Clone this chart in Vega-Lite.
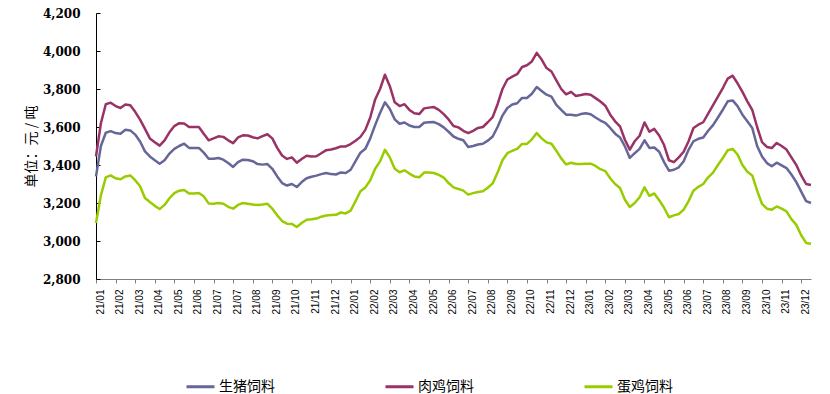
{
  "$schema": "https://vega.github.io/schema/vega-lite/v6.json",
  "width": 715,
  "height": 266,
  "autosize": {"type": "none"},
  "padding": {"left": 96, "top": 13, "right": 19, "bottom": 115},
  "background": "white",
  "config": {"view": {"stroke": null}, "font": "Liberation Sans"},
  "data": {"values": [
    {"w":0,"生猪饲料":3340,"肉鸡饲料":3445,"蛋鸡饲料":3095},
    {"w":1,"生猪饲料":3500,"肉鸡饲料":3620,"蛋鸡饲料":3240},
    {"w":2,"生猪饲料":3570,"肉鸡饲料":3720,"蛋鸡饲料":3335},
    {"w":3,"生猪饲料":3578,"肉鸡饲料":3728,"蛋鸡饲料":3345},
    {"w":4,"生猪饲料":3568,"肉鸡饲料":3710,"蛋鸡饲料":3330},
    {"w":5,"生猪饲料":3565,"肉鸡饲料":3700,"蛋鸡饲料":3325},
    {"w":6,"生猪饲料":3585,"肉鸡饲料":3718,"蛋鸡饲料":3340},
    {"w":7,"生猪饲料":3582,"肉鸡饲料":3715,"蛋鸡饲料":3345},
    {"w":8,"生猪饲料":3560,"肉鸡饲料":3680,"蛋鸡饲料":3320},
    {"w":9,"生猪饲料":3524,"肉鸡饲料":3639,"蛋鸡饲料":3288},
    {"w":10,"生猪饲料":3472,"肉鸡饲料":3590,"蛋鸡饲料":3226},
    {"w":11,"生猪饲料":3445,"肉鸡饲料":3540,"蛋鸡饲料":3205},
    {"w":12,"生猪饲料":3425,"肉鸡饲料":3520,"蛋鸡饲料":3185},
    {"w":13,"生猪饲料":3407,"肉鸡饲料":3502,"蛋鸡饲料":3168},
    {"w":14,"生猪饲料":3425,"肉鸡饲料":3530,"蛋鸡饲料":3190},
    {"w":15,"生猪饲料":3460,"肉鸡饲料":3572,"蛋鸡饲料":3225},
    {"w":16,"生猪饲料":3485,"肉鸡饲料":3605,"蛋鸡饲料":3252},
    {"w":17,"生猪饲料":3500,"肉鸡饲料":3620,"蛋鸡饲料":3265},
    {"w":18,"生猪饲料":3512,"肉鸡饲料":3618,"蛋鸡饲料":3268},
    {"w":19,"生猪饲料":3490,"肉鸡饲料":3600,"蛋鸡饲料":3250},
    {"w":20,"生猪饲料":3490,"肉鸡饲料":3600,"蛋鸡饲料":3250},
    {"w":21,"生猪饲料":3490,"肉鸡饲料":3600,"蛋鸡饲料":3253},
    {"w":22,"生猪饲料":3465,"肉鸡饲料":3565,"蛋鸡饲料":3235},
    {"w":23,"生猪饲料":3433,"肉鸡饲料":3530,"蛋鸡饲料":3198},
    {"w":24,"生猪饲料":3433,"肉鸡饲料":3540,"蛋鸡饲料":3196},
    {"w":25,"生猪饲料":3437,"肉鸡饲料":3551,"蛋鸡饲料":3200},
    {"w":26,"生猪饲料":3428,"肉鸡饲料":3548,"蛋鸡饲料":3196},
    {"w":27,"生猪饲料":3410,"肉鸡饲料":3530,"蛋鸡饲料":3180},
    {"w":28,"生猪饲料":3390,"肉鸡饲料":3515,"蛋鸡饲料":3170},
    {"w":29,"生猪饲料":3415,"肉鸡饲料":3545,"蛋鸡饲料":3190},
    {"w":30,"生猪饲料":3428,"肉鸡饲料":3556,"蛋鸡饲料":3200},
    {"w":31,"生猪饲料":3426,"肉鸡饲料":3555,"蛋鸡饲料":3196},
    {"w":32,"生猪饲料":3420,"肉鸡饲料":3546,"蛋鸡饲料":3192},
    {"w":33,"生猪饲料":3405,"肉鸡饲料":3540,"蛋鸡饲料":3189},
    {"w":34,"生猪饲料":3402,"肉鸡饲料":3552,"蛋鸡饲料":3192},
    {"w":35,"生猪饲料":3405,"肉鸡饲料":3562,"蛋鸡饲料":3196},
    {"w":36,"生猪饲料":3380,"肉鸡饲料":3540,"蛋鸡饲料":3170},
    {"w":37,"生猪饲料":3340,"肉鸡饲料":3490,"蛋鸡饲料":3135},
    {"w":38,"生猪饲料":3305,"肉鸡饲料":3450,"蛋鸡饲料":3105},
    {"w":39,"生猪饲料":3292,"肉鸡饲料":3432,"蛋鸡饲料":3091},
    {"w":40,"生猪饲料":3300,"肉鸡饲料":3440,"蛋鸡饲料":3090},
    {"w":41,"生猪饲料":3284,"肉鸡饲料":3412,"蛋鸡饲料":3074},
    {"w":42,"生猪饲料":3310,"肉鸡饲料":3432,"蛋鸡饲料":3095},
    {"w":43,"生猪饲料":3330,"肉鸡饲料":3449,"蛋鸡饲料":3112},
    {"w":44,"生猪饲料":3338,"肉鸡饲料":3445,"蛋鸡饲料":3114},
    {"w":45,"生猪饲料":3344,"肉鸡饲料":3446,"蛋鸡饲料":3118},
    {"w":46,"生猪饲料":3352,"肉鸡饲料":3462,"蛋鸡饲料":3128},
    {"w":47,"生猪饲料":3358,"肉鸡饲料":3478,"蛋鸡饲料":3134},
    {"w":48,"生猪饲料":3352,"肉鸡饲料":3482,"蛋鸡饲料":3137},
    {"w":49,"生猪饲料":3350,"肉鸡饲料":3488,"蛋鸡饲料":3138},
    {"w":50,"生猪饲料":3361,"肉鸡饲料":3498,"蛋鸡饲料":3150},
    {"w":51,"生猪饲料":3358,"肉鸡饲料":3498,"蛋鸡饲料":3145},
    {"w":52,"生猪饲料":3375,"肉鸡饲料":3510,"蛋鸡饲料":3160},
    {"w":53,"生猪饲料":3420,"肉鸡饲料":3528,"蛋鸡饲料":3210},
    {"w":54,"生猪饲料":3465,"肉鸡饲料":3548,"蛋鸡饲料":3262},
    {"w":55,"生猪饲料":3485,"肉鸡饲料":3585,"蛋鸡饲料":3282},
    {"w":56,"生猪饲料":3540,"肉鸡饲料":3650,"蛋鸡饲料":3320},
    {"w":57,"生猪饲料":3610,"肉鸡饲料":3745,"蛋鸡饲料":3380},
    {"w":58,"生猪饲料":3674,"肉鸡饲料":3800,"蛋鸡饲料":3419},
    {"w":59,"生猪饲料":3730,"肉鸡饲料":3875,"蛋鸡饲料":3480},
    {"w":60,"生猪饲料":3695,"肉鸡饲料":3815,"蛋鸡饲料":3440},
    {"w":61,"生猪饲料":3640,"肉鸡饲料":3730,"蛋鸡饲料":3380},
    {"w":62,"生猪饲料":3617,"肉鸡饲料":3710,"蛋鸡饲料":3362},
    {"w":63,"生猪饲料":3624,"肉鸡饲料":3720,"蛋鸡饲料":3372},
    {"w":64,"生猪饲料":3608,"肉鸡饲料":3690,"蛋鸡饲料":3355},
    {"w":65,"生猪饲料":3600,"肉鸡饲料":3672,"蛋鸡饲料":3340},
    {"w":66,"生猪饲料":3600,"肉鸡饲料":3668,"蛋鸡饲料":3335},
    {"w":67,"生猪饲料":3622,"肉鸡饲料":3698,"蛋鸡饲料":3360},
    {"w":68,"生猪饲料":3625,"肉鸡饲料":3702,"蛋鸡饲料":3360},
    {"w":69,"生猪饲料":3626,"肉鸡饲料":3705,"蛋鸡饲料":3358},
    {"w":70,"生猪饲料":3615,"肉鸡饲料":3690,"蛋鸡饲料":3348},
    {"w":71,"生猪饲料":3598,"肉鸡饲料":3668,"蛋鸡饲料":3334},
    {"w":72,"生猪饲料":3575,"肉鸡饲料":3640,"蛋鸡饲料":3305},
    {"w":73,"生猪饲料":3550,"肉鸡饲料":3605,"蛋鸡饲料":3282},
    {"w":74,"生猪饲料":3538,"肉鸡饲料":3598,"蛋鸡饲料":3274},
    {"w":75,"生猪饲料":3530,"肉鸡饲料":3580,"蛋鸡饲料":3265},
    {"w":76,"生猪饲料":3495,"肉鸡饲料":3568,"蛋鸡饲料":3244},
    {"w":77,"生猪饲料":3500,"肉鸡饲料":3580,"蛋鸡饲料":3252},
    {"w":78,"生猪饲料":3508,"肉鸡饲料":3595,"蛋鸡饲料":3258},
    {"w":79,"生猪饲料":3512,"肉鸡饲料":3600,"蛋鸡饲料":3262},
    {"w":80,"生猪饲料":3528,"肉鸡饲料":3625,"蛋鸡饲料":3280},
    {"w":81,"生猪饲料":3550,"肉鸡饲料":3652,"蛋鸡饲料":3303},
    {"w":82,"生猪饲料":3600,"肉鸡饲料":3720,"蛋鸡饲料":3360},
    {"w":83,"生猪饲料":3660,"肉鸡饲料":3800,"蛋鸡饲料":3425},
    {"w":84,"生猪饲料":3700,"肉鸡饲料":3850,"蛋鸡饲料":3462},
    {"w":85,"生猪饲料":3718,"肉鸡饲料":3865,"蛋鸡饲料":3475},
    {"w":86,"生猪饲料":3725,"肉鸡饲料":3878,"蛋鸡饲料":3485},
    {"w":87,"生猪饲料":3753,"肉鸡饲料":3916,"蛋鸡饲料":3511},
    {"w":88,"生猪饲料":3753,"肉鸡饲料":3925,"蛋鸡饲料":3511},
    {"w":89,"生猪饲料":3775,"肉鸡饲料":3945,"蛋鸡饲料":3535},
    {"w":90,"生猪饲料":3810,"肉鸡饲料":3990,"蛋鸡饲料":3568},
    {"w":91,"生猪饲料":3790,"肉鸡饲料":3955,"蛋鸡饲料":3540},
    {"w":92,"生猪饲料":3770,"肉鸡饲料":3910,"蛋鸡饲料":3519},
    {"w":93,"生猪饲料":3760,"肉鸡饲料":3892,"蛋鸡饲料":3512},
    {"w":94,"生猪饲料":3717,"肉鸡饲料":3845,"蛋鸡饲料":3475},
    {"w":95,"生猪饲料":3690,"肉鸡饲料":3800,"蛋鸡饲料":3435},
    {"w":96,"生猪饲料":3665,"肉鸡饲料":3772,"蛋鸡饲料":3403},
    {"w":97,"生猪饲料":3665,"肉鸡饲料":3785,"蛋鸡饲料":3412},
    {"w":98,"生猪饲料":3660,"肉鸡饲料":3763,"蛋鸡饲料":3405},
    {"w":99,"生猪饲料":3668,"肉鸡饲料":3768,"蛋鸡饲料":3405},
    {"w":100,"生猪饲料":3672,"肉鸡饲料":3774,"蛋鸡饲料":3407},
    {"w":101,"生猪饲料":3667,"肉鸡饲料":3770,"蛋鸡饲料":3407},
    {"w":102,"生猪饲料":3650,"肉鸡饲料":3752,"蛋鸡饲料":3395},
    {"w":103,"生猪饲料":3634,"肉鸡饲料":3734,"蛋鸡饲料":3378},
    {"w":104,"生猪饲料":3622,"肉鸡饲料":3712,"蛋鸡饲料":3368},
    {"w":105,"生猪饲料":3595,"肉鸡饲料":3665,"蛋鸡饲料":3330},
    {"w":106,"生猪饲料":3565,"肉鸡饲料":3630,"蛋鸡饲料":3300},
    {"w":107,"生猪饲料":3545,"肉鸡饲料":3603,"蛋鸡饲料":3279},
    {"w":108,"生猪饲料":3498,"肉鸡饲料":3533,"蛋鸡饲料":3217},
    {"w":109,"生猪饲料":3437,"肉鸡饲料":3481,"蛋鸡饲料":3179},
    {"w":110,"生猪饲料":3462,"肉鸡饲料":3525,"蛋鸡饲料":3200},
    {"w":111,"生猪饲料":3485,"肉鸡饲料":3554,"蛋鸡饲料":3230},
    {"w":112,"生猪饲料":3530,"肉鸡饲料":3624,"蛋鸡饲料":3282},
    {"w":113,"生猪饲料":3490,"肉鸡饲料":3575,"蛋鸡饲料":3238},
    {"w":114,"生猪饲料":3492,"肉鸡饲料":3590,"蛋鸡饲料":3250},
    {"w":115,"生猪饲料":3470,"肉鸡饲料":3555,"蛋鸡饲料":3215},
    {"w":116,"生猪饲料":3415,"肉鸡饲料":3505,"蛋鸡饲料":3175},
    {"w":117,"生猪饲料":3370,"肉鸡饲料":3425,"蛋鸡饲料":3125},
    {"w":118,"生猪饲料":3375,"肉鸡饲料":3415,"蛋鸡饲料":3135},
    {"w":119,"生猪饲料":3388,"肉鸡饲料":3440,"蛋鸡饲料":3142},
    {"w":120,"生猪饲料":3420,"肉鸡饲料":3470,"蛋鸡饲料":3165},
    {"w":121,"生猪饲料":3480,"肉鸡饲料":3525,"蛋鸡饲料":3210},
    {"w":122,"生猪饲料":3525,"肉鸡饲料":3595,"蛋鸡饲料":3265},
    {"w":123,"生猪饲料":3538,"肉鸡饲料":3612,"蛋鸡饲料":3285},
    {"w":124,"生猪饲料":3545,"肉鸡饲料":3625,"蛋鸡饲料":3300},
    {"w":125,"生猪饲料":3580,"肉鸡饲料":3670,"蛋鸡饲料":3335},
    {"w":126,"生猪饲料":3610,"肉鸡饲料":3715,"蛋鸡饲料":3360},
    {"w":127,"生猪饲料":3650,"肉鸡饲料":3760,"蛋鸡饲料":3400},
    {"w":128,"生猪饲料":3691,"肉鸡饲料":3805,"蛋鸡饲料":3437},
    {"w":129,"生猪饲料":3735,"肉鸡饲料":3855,"蛋鸡饲料":3478},
    {"w":130,"生猪饲料":3740,"肉鸡饲料":3870,"蛋鸡饲料":3485},
    {"w":131,"生猪饲料":3710,"肉鸡饲料":3830,"蛋鸡饲料":3455},
    {"w":132,"生猪饲料":3665,"肉鸡饲料":3785,"蛋鸡饲料":3400},
    {"w":133,"生猪饲料":3630,"肉鸡饲料":3735,"蛋鸡饲料":3365},
    {"w":134,"生猪饲料":3595,"肉鸡饲料":3690,"蛋鸡饲料":3345},
    {"w":135,"生猪饲料":3500,"肉鸡饲料":3600,"蛋鸡饲料":3265},
    {"w":136,"生猪饲料":3445,"肉鸡饲料":3520,"蛋鸡饲料":3195},
    {"w":137,"生猪饲料":3410,"肉鸡饲料":3495,"蛋鸡饲料":3170},
    {"w":138,"生猪饲料":3393,"肉鸡饲料":3489,"蛋鸡饲料":3165},
    {"w":139,"生猪饲料":3412,"肉鸡饲料":3516,"蛋鸡饲料":3182},
    {"w":140,"生猪饲料":3398,"肉鸡饲料":3500,"蛋鸡饲料":3170},
    {"w":141,"生猪饲料":3384,"肉鸡饲料":3481,"蛋鸡饲料":3156},
    {"w":142,"生猪饲料":3350,"肉鸡饲料":3440,"蛋鸡饲料":3115},
    {"w":143,"生猪饲料":3310,"肉鸡饲料":3400,"蛋鸡饲料":3085},
    {"w":144,"生猪饲料":3260,"肉鸡饲料":3345,"蛋鸡饲料":3030},
    {"w":145,"生猪饲料":3210,"肉鸡饲料":3300,"蛋鸡饲料":2990},
    {"w":146,"生猪饲料":3200,"肉鸡饲料":3295,"蛋鸡饲料":2986}
  ]},
  "transform": [{"fold": ["生猪饲料", "肉鸡饲料", "蛋鸡饲料"], "as": ["饲料", "价格"]}],
  "mark": {"type": "line", "strokeWidth": 2.5, "strokeJoin": "round"},
  "encoding": {
    "x": {
      "field": "w", "type": "quantitative",
      "scale": {"domain": [0, 146], "nice": false, "zero": false},
      "axis": {
        "title": null, "grid": false,
        "values": [0,4,8,12,16,20,24,28,32,36,40,44,48,52,56,60,64,68,72,76,80,84,88,92,96,100,104,108,112,116,120,124,128,132,136,140,144],
        "labelExpr": "['21/01','21/02','21/03','21/04','21/05','21/06','21/07','21/07','21/08','21/09','21/10','21/11','21/12','22/01','22/02','22/03','22/04','22/05','22/06','22/07','22/08','22/09','22/10','22/11','22/12','23/01','23/02','23/03','23/04','23/05','23/06','23/07','23/08','23/09','23/10','23/11','23/12'][round(datum.value/4)]",
        "labelAngle": -90, "labelFontSize": 10, "labelColor": "#000000", "labelFont": "Liberation Sans",
        "labelPadding": 6, "labelOffset": 4, "labelOverlap": false, "labelFlush": false,
        "tickSize": 4, "tickColor": "#808080", "domainColor": "#808080", "tickWidth": 1, "domainWidth": 1
      }
    },
    "y": {
      "field": "价格", "type": "quantitative",
      "scale": {"domain": [2800, 4200], "nice": false, "zero": false},
      "axis": {
        "title": "单位：元 / 吨", "titleFont": "Noto Sans CJK SC", "titleFontSize": 14, "titleFontWeight": "normal", "titleColor": "#000000",
        "titleX": -65, "titleY": 133, "titleAngle": 270, "titleAlign": "center", "titleBaseline": "middle",
        "grid": false, "values": [2800,3000,3200,3400,3600,3800,4000,4200], "format": ",.0f",
        "labelFont": "DejaVu Serif", "labelFontWeight": "bold", "labelFontSize": 12, "labelColor": "#000000",
        "tickSize": -4, "labelPadding": 20, "tickColor": "#000000", "domainColor": "#000000", "labelFlush": false
      }
    },
    "color": {
      "field": "饲料", "type": "nominal",
      "scale": {"domain": ["生猪饲料", "肉鸡饲料", "蛋鸡饲料"], "range": ["#666699", "#993366", "#99CC00"]},
      "legend": {
        "orient": "none", "legendX": 89, "legendY": 358, "direction": "horizontal", "title": null,
        "symbolType": "stroke", "symbolSize": 784, "symbolStrokeWidth": 3,
        "labelFont": "Noto Sans CJK SC", "labelFontSize": 14, "labelColor": "#000000",
        "labelOffset": 3, "columnPadding": 104
      }
    }
  }
}
